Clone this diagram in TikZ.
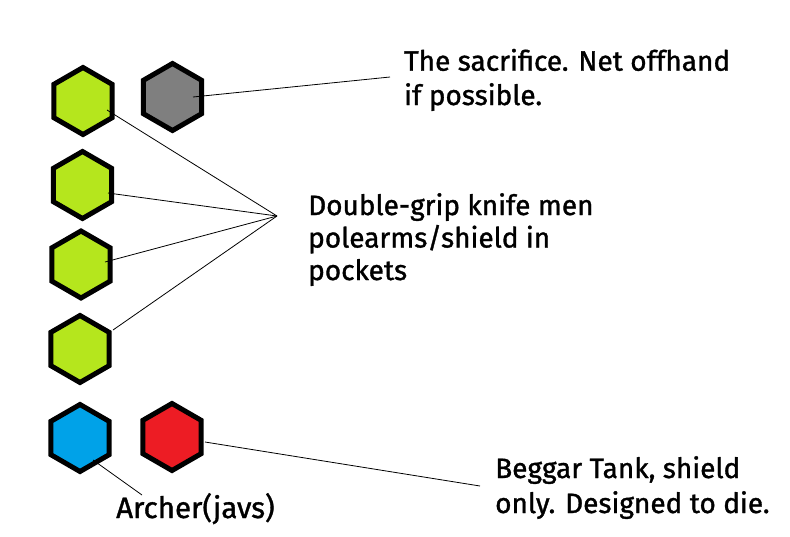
\documentclass[tikz,border=0pt]{standalone}
\usepackage{fontspec}
\setmainfont{Fira Sans}[FakeBold=1.2]
\usetikzlibrary{shapes.geometric}
\definecolor{limehex}{HTML}{B5E61D}
\definecolor{grayhex}{HTML}{7F7F7F}
\definecolor{bluehex}{HTML}{00A2E8}
\definecolor{redhex}{HTML}{ED1C24}
\begin{document}
\begin{tikzpicture}[x=1pt,y=-1pt,
  hexa/.style={regular polygon, regular polygon sides=6, shape border rotate=30,
    minimum size=67pt, inner sep=0pt, line width=5pt, draw=black, fill=#1},
  lbl/.style={anchor=base west, inner sep=0pt, align=left,
    font=\fontsize{28}{33.5}\selectfont},
  conn/.style={draw=black, line width=0.8pt}]
\useasboundingbox[fill=white] (0,0) rectangle (790,536);
\node[hexa=limehex] (h1) at (83,101) {};
\node[hexa=grayhex] (g) at (172.5,97) {};
\node[hexa=limehex] (h2) at (82.5,185) {};
\node[hexa=limehex] (h3) at (81,264.5) {};
\node[hexa=limehex] (h4) at (80,349) {};
\node[hexa=bluehex] (b) at (80,438) {};
\node[hexa=redhex] (r) at (172,437) {};
\node[lbl, font=\fontsize{28}{34.3}\selectfont] (t1) at (404,105) {The sacrifice. Net offhand\\if possible.};
\node[lbl, font=\fontsize{28}{32.5}\selectfont] (t2) at (308,280) {Double-grip knife men\\polearms/shield in\\pockets};
\node[lbl, font=\fontsize{28}{35}\selectfont] (t3) at (495,513) {Beggar Tank, shield\\only. Designed to die.};
\node[lbl, font=\fontsize{29.5}{35}\selectfont] (t4) at (116,518) {Archer(javs)};
\coordinate (p) at (277,216);
\coordinate (ge) at (390,77);
\coordinate (re) at (480,486);
\coordinate (be) at (142,495);
\draw[conn] ([shift={(20.5,0)}]g.center) -- (ge);
\draw[conn] ([shift={(24,9)}]h1.center) -- (p);
\draw[conn] ([shift={(25.5,8)}]h2.center) -- (p);
\draw[conn] ([shift={(24,-2.5)}]h3.center) -- (p);
\draw[conn] ([shift={(33,-19)}]h4.center) -- (p);
\draw[conn] ([shift={(33,5)}]r.center) -- (re);
\draw[conn] ([shift={(13,22)}]b.center) -- (be);
\end{tikzpicture}
\end{document}
